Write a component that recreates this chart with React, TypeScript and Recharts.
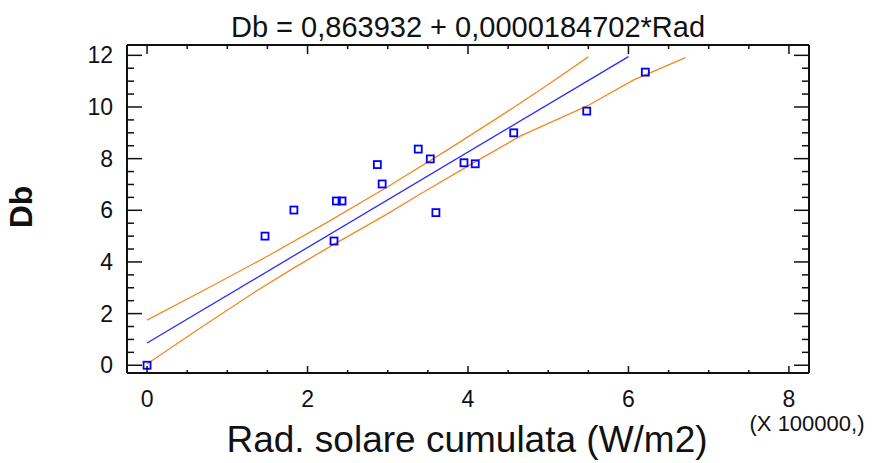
import React from 'react';
import { ComposedChart, XAxis, YAxis, Line, Scatter, Customized } from 'recharts';

// Observed data (Rad in units of 100000 W/m2, Db)
const radValues = [0, 1.47, 1.83, 2.33, 2.36, 2.43, 2.87, 2.93, 3.38, 3.53, 3.6, 3.95, 4.09, 4.57, 5.48, 6.21];
const dbValues = [0, 5.0, 6.01, 4.81, 6.36, 6.36, 7.77, 7.02, 8.37, 7.99, 5.91, 7.84, 7.8, 9.0, 9.84, 11.35];

// Fitted line
const fitX = [0, 6.0];
const fitY = [0.86, 11.95];

// Upper confidence band
const upperX = [0, 0.75, 1.5, 2.25, 3.0, 3.75, 4.5, 5.0, 5.5];
const upperY = [1.75, 2.97, 4.22, 5.54, 6.91, 8.35, 9.84, 10.87, 11.94];

// Lower confidence band
const lowerX = [0, 0.7, 1.32, 1.82, 2.36, 2.99, 3.4, 4.03, 4.65, 5.48, 6.06, 6.71];
const lowerY = [0.05, 1.52, 2.79, 3.75, 4.74, 5.85, 6.62, 7.77, 8.87, 10.03, 11.04, 11.91];

const xTicks = [0, 0.5, 1, 1.5, 2, 2.5, 3, 3.5, 4, 4.5, 5, 5.5, 6, 6.5, 7, 7.5, 8];
const xLabels = [0, 2, 4, 6, 8];
const yTicks = [0, 0.5, 1, 1.5, 2, 2.5, 3, 3.5, 4, 4.5, 5, 5.5, 6, 6.5, 7, 7.5, 8, 8.5, 9, 9.5, 10, 10.5, 11, 11.5, 12];
const yLabels = [0, 2, 4, 6, 8, 10, 12];

const titleText = 'Db = 0,863932 + 0,0000184702*Rad';
const xTitle = 'Rad. solare cumulata (W/m2)';
const yTitle = 'Db';
const multiplierText = '(X 100000,)';

const points = radValues.map((x, i) => ({ x, y: dbValues[i] }));
const fitData = fitX.map((x, i) => ({ x, y: fitY[i] }));
const upperData = upperX.map((x, i) => ({ x, y: upperY[i] }));
const lowerData = lowerX.map((x, i) => ({ x, y: lowerY[i] }));

const FONT = '"Liberation Sans", Arial, sans-serif';
const AXIS = '#111';

const Square = (props: any) => {
  const { cx, cy } = props;
  if (cx == null || cy == null) return null;
  return <rect x={cx - 3.5} y={cy - 3.5} width={7} height={7} fill="none" stroke="#0000ff" strokeWidth={1.8} />;
};

const Nothing = () => <g />;

const BottomTick = (props: any) => {
  const { x, y, payload } = props;
  const v = payload.value;
  const major = xLabels.includes(v);
  return (
    <g>
      <line x1={x} x2={x} y1={y} y2={y - (major ? 7 : 3)} stroke={AXIS} strokeWidth={1.5} />
      {major && (
        <text x={x} y={y + 34} textAnchor="middle" fontFamily={FONT} fontSize={23} fill="#111">
          {v}
        </text>
      )}
    </g>
  );
};

const TopTick = (props: any) => {
  const { x, y, payload } = props;
  const major = xLabels.includes(payload.value);
  return <line x1={x} x2={x} y1={y} y2={y + (major ? 9 : 4)} stroke={AXIS} strokeWidth={1.5} />;
};

const LeftTick = (props: any) => {
  const { x, y, payload } = props;
  const v = payload.value;
  const major = yLabels.includes(v);
  return (
    <g>
      <line x1={x} x2={x + (major ? 15 : 7)} y1={y} y2={y} stroke={AXIS} strokeWidth={1.5} />
      {major && (
        <text x={x - 14} y={y + 8} textAnchor="end" fontFamily={FONT} fontSize={23} fill="#111">
          {v}
        </text>
      )}
    </g>
  );
};

const RightTick = (props: any) => {
  const { x, y, payload } = props;
  const major = yLabels.includes(payload.value);
  return <line x1={x} x2={x - (major ? 15 : 7)} y1={y} y2={y} stroke={AXIS} strokeWidth={1.5} />;
};

const Texts = () => (
  <g>
    <text x={468} y={37} textAnchor="middle" fontFamily={FONT} fontSize={29} fill="#111">
      {titleText}
    </text>
    <text x={467} y={452} textAnchor="middle" fontFamily={FONT} fontSize={37} fill="#111">
      {xTitle}
    </text>
    <text
      x={32}
      y={207}
      textAnchor="middle"
      fontFamily={FONT}
      fontSize={32}
      fontWeight="bold"
      fill="#111"
      transform="rotate(-90 32 207)"
    >
      {yTitle}
    </text>
    <text x={807} y={431} textAnchor="middle" fontFamily={FONT} fontSize={22} fill="#111">
      {multiplierText}
    </text>
  </g>
);

export default function App() {
  return (
    <div style={{ position: 'absolute', left: 0, top: 0, width: 872, height: 463, background: '#fff' }}>
      <ComposedChart width={872} height={463} margin={{ top: 44, right: 62, bottom: 0, left: 0 }}>
        <XAxis
          xAxisId="b"
          dataKey="x"
          type="number"
          orientation="bottom"
          domain={[-0.25, 8.25]}
          allowDataOverflow
          ticks={xTicks}
          interval={0}
          tickSize={0}
          tickMargin={0}
          tickLine={false}
          tick={<BottomTick />}
          axisLine={{ stroke: AXIS, strokeWidth: 2 }}
          height={90}
        />
        <XAxis
          xAxisId="t"
          dataKey="x"
          type="number"
          orientation="top"
          domain={[-0.25, 8.25]}
          allowDataOverflow
          ticks={xTicks}
          interval={0}
          tickSize={0}
          tickMargin={0}
          tickLine={false}
          tick={<TopTick />}
          axisLine={{ stroke: AXIS, strokeWidth: 2 }}
          height={1}
        />
        <YAxis
          yAxisId="l"
          type="number"
          orientation="left"
          domain={[-0.3, 12.4]}
          allowDataOverflow
          ticks={yTicks}
          interval={0}
          tickSize={0}
          tickMargin={0}
          tickLine={false}
          tick={<LeftTick />}
          axisLine={{ stroke: AXIS, strokeWidth: 2 }}
          width={127}
        />
        <YAxis
          yAxisId="r"
          type="number"
          orientation="right"
          domain={[-0.3, 12.4]}
          allowDataOverflow
          ticks={yTicks}
          interval={0}
          tickSize={0}
          tickMargin={0}
          tickLine={false}
          tick={<RightTick />}
          axisLine={{ stroke: AXIS, strokeWidth: 2 }}
          width={1}
        />
        <Line
          xAxisId="b"
          yAxisId="l"
          data={upperData}
          dataKey="y"
          type="linear"
          stroke="#f08a24"
          strokeWidth={1.3}
          dot={false}
          activeDot={false}
          isAnimationActive={false}
        />
        <Line
          xAxisId="b"
          yAxisId="l"
          data={lowerData}
          dataKey="y"
          type="linear"
          stroke="#f08a24"
          strokeWidth={1.3}
          dot={false}
          activeDot={false}
          isAnimationActive={false}
        />
        <Line
          xAxisId="b"
          yAxisId="l"
          data={fitData}
          dataKey="y"
          type="linear"
          stroke="#2a2aff"
          strokeWidth={1.3}
          dot={false}
          activeDot={false}
          isAnimationActive={false}
        />
        <Scatter
          xAxisId="b"
          yAxisId="l"
          data={points}
          dataKey="y"
          shape={<Square />}
          isAnimationActive={false}
        />
        <Scatter
          xAxisId="t"
          yAxisId="r"
          data={points}
          dataKey="y"
          shape={<Nothing />}
          isAnimationActive={false}
        />
        <Customized component={Texts} />
      </ComposedChart>
    </div>
  );
}
